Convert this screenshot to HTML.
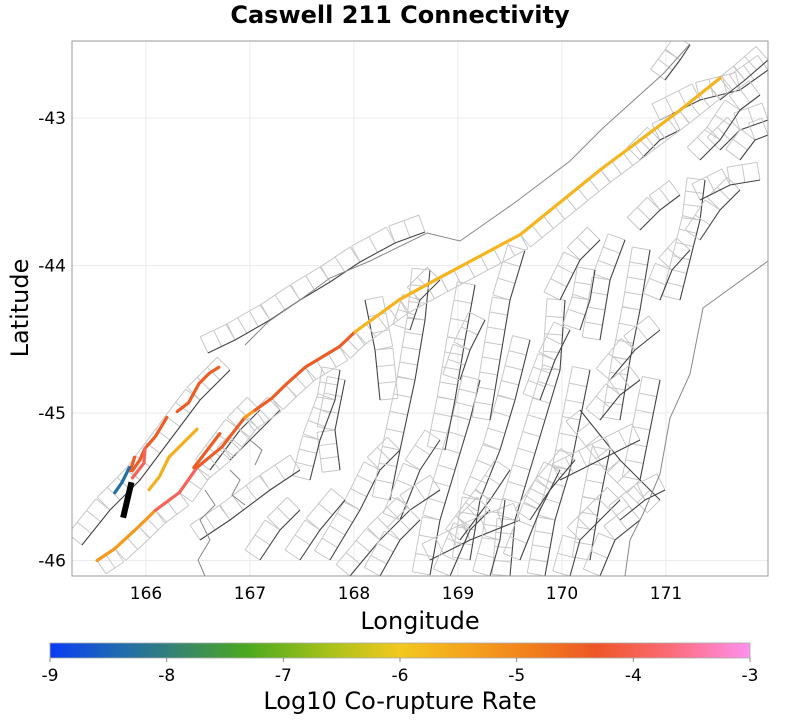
<!DOCTYPE html>
<html><head><meta charset="utf-8"><style>
body{margin:0;background:#fff;font-family:"Liberation Sans","DejaVu Sans",sans-serif}
svg text{font-family:"DejaVu Sans","Liberation Sans",sans-serif}
</style></head><body>
<svg id="chart" width="800" height="723" viewBox="0 0 800 723" xmlns="http://www.w3.org/2000/svg">
<defs>
<linearGradient id="cb" x1="0" x2="1" y1="0" y2="0">
<stop offset="0" stop-color="#0a3cf5"/><stop offset="0.1" stop-color="#1f6bb0"/><stop offset="0.2" stop-color="#3a8a60"/><stop offset="0.28" stop-color="#4aa81f"/><stop offset="0.4" stop-color="#a8c21a"/><stop offset="0.5" stop-color="#f2c81e"/><stop offset="0.6" stop-color="#f5a21e"/><stop offset="0.7" stop-color="#f07a1c"/><stop offset="0.78" stop-color="#ee5628"/><stop offset="0.88" stop-color="#fc6a72"/><stop offset="1" stop-color="#ff90ee"/>
</linearGradient>
<clipPath id="plotclip"><rect x="72" y="41" width="696" height="535"/></clipPath>
</defs>
<text x="400" y="23" text-anchor="middle" font-size="24" font-weight="bold">Caswell 211 Connectivity</text>
<rect x="72" y="41" width="696" height="535" fill="#fff"/>
<g id="grid"></g>
<g id="base" clip-path="url(#plotclip)"></g>
<g id="faults" clip-path="url(#plotclip)"></g>
<rect x="72" y="41" width="696" height="535" fill="none" stroke="#999" stroke-width="1"/>
<g id="axes"></g>
<text x="420" y="629" text-anchor="middle" font-size="24">Longitude</text>
<text transform="translate(28,308) rotate(-90)" text-anchor="middle" font-size="24">Latitude</text>
<rect x="50" y="643" width="700" height="15" fill="url(#cb)" stroke="#aaa" stroke-width="0.8"/>
<g id="cbticks"></g>
<text x="400" y="709" text-anchor="middle" font-size="24">Log10 Co-rupture Rate</text>
</svg>
<script>
const lonTicks=[166,167,168,169,170,171];
const latTicks=[-43,-44,-45,-46];
const cbTicks=[-9,-8,-7,-6,-5,-4,-3];
// colored ruptures: lon/lat traces and log10 rates
const faultRates=[-5.3,-3.9,-4.4,-5.3,-4.4,-5.7,-4.4,-4.4,-3.9,-4.4,-8.3,-5.6,-4.4];
const faultLons=[
[165.53,165.70,165.93,166.09],
[166.09,166.32,166.49],
[166.49,166.73,166.95],
[166.95,167.05],
[167.05,167.21,167.34,167.53,167.86,168.01],
[168.01,168.44,168.83,169.60,170.37,171.13,171.52],
[166.30,166.41,166.51,166.61,166.70],
[166.20,166.09,165.99,165.94,165.87],
[165.99,165.98,165.87],
[165.89,165.85],
[165.84,165.77,165.70],
[166.49,166.22,166.13,166.03],
[166.71,166.46]];
const faultLats=[
[-46.00,-45.92,-45.77,-45.66],
[-45.66,-45.54,-45.37],
[-45.37,-45.23,-45.03],
[-45.03,-44.98],
[-44.98,-44.90,-44.81,-44.69,-44.55,-44.45],
[-44.45,-44.23,-44.08,-43.79,-43.35,-42.95,-42.73],
[-44.99,-44.93,-44.80,-44.73,-44.69],
[-45.03,-45.16,-45.24,-45.32,-45.39],
[-45.24,-45.34,-45.44],
[-45.30,-45.39],
[-45.37,-45.47,-45.54],
[-45.11,-45.30,-45.43,-45.52],
[-45.14,-45.37]];
const targetLons=[165.86,165.78];
const targetLats=[-45.47,-45.71];

const NS="http://www.w3.org/2000/svg";
const xS=lon=>146+(lon-166)*104;
const yS=lat=>118+(-43-lat)*147.5;
const cS=v=>50+(v+9)/6*700;
function el(t,a,p){const e=document.createElementNS(NS,t);for(const k in a)e.setAttribute(k,a[k]);p.appendChild(e);return e;}
const stops=[[-9,[10,60,245]],[-8.4,[31,107,176]],[-7.8,[58,138,96]],[-7.3,[74,168,31]],[-6.6,[168,194,26]],[-6,[242,200,30]],[-5.4,[245,162,30]],[-4.8,[240,122,28]],[-4.3,[238,86,40]],[-3.7,[252,106,114]],[-3,[255,144,238]]];
function col(v){for(let i=0;i<stops.length-1;i++){const a=stops[i],b=stops[i+1];if(v<=b[0]){const t=(v-a[0])/(b[0]-a[0]);const c=a[1].map((x,j)=>Math.round(x+(b[1][j]-x)*t));return `rgb(${c})`;}}return 'rgb(255,144,238)';}

const grid=document.getElementById('grid'),axes=document.getElementById('axes');
lonTicks.forEach(v=>{
 const l=el('line',{x1:xS(v),x2:xS(v),y1:41,y2:576,stroke:'#ebebeb','stroke-width':1},grid);
 
 
 const t=el('text',{x:xS(v),y:599,'text-anchor':'middle','font-size':17},axes);t.textContent=v;
 
 
});
latTicks.forEach(v=>{
 const l=el('line',{x1:72,x2:768,y1:yS(v),y2:yS(v),stroke:'#ebebeb','stroke-width':1},grid);
 
 
 const t=el('text',{x:66,y:yS(v)+6,'text-anchor':'end','font-size':17},axes);t.textContent=v;
 
 
});
const cbt=document.getElementById('cbticks');
cbTicks.forEach(v=>{
 el('line',{x1:cS(v),x2:cS(v),y1:658,y2:662,stroke:'#888'},cbt);
 const t=el('text',{x:cS(v),y:681,'text-anchor':'middle','font-size':17},cbt);t.textContent=v;
 
 
});

// basemap decoration (pixel geometry of background fault network)
const base=document.getElementById('base');
const bg=[
[[430,575],[440,520],[455,470],[470,420],[480,380]],
[[470,560],[480,500],[500,450],[515,400],[530,340]],
[[510,576],[515,520],[530,470],[545,420],[560,370],[565,300]],
[[545,576],[555,520],[570,470],[580,420],[590,370]],
[[590,560],[600,500],[610,450]],
[[330,560],[360,510],[380,470],[400,450]],
[[390,500],[400,450],[415,380],[425,320],[430,270]],
[[445,450],[455,400],[465,340],[475,285]],
[[490,420],[500,360],[510,300],[525,250]],
[[560,300],[580,260],[600,240]],
[[600,340],[610,280],[625,240]],
[[620,420],[630,360],[640,310],[650,250]],
[[640,480],[650,430],[660,380]],
[[660,500],[620,460],[580,410]],
[[400,520],[420,470],[440,440]],
[[365,300],[375,350],[380,400]],
[[340,470],[335,430],[345,380]],
[[310,480],[320,440],[335,400],[340,370]],
[[560,480],[600,460],[640,440]],
[[680,300],[690,260],[700,220],[705,180]],
[[720,150],[740,130],[768,120]],
[[700,240],[720,210],[740,190]],
[[660,120],[700,100],[740,90],[768,70]],
[[665,80],[680,60],[690,45]],
[[740,160],[755,140],[768,135]],
[[430,560],[470,540],[520,520]],
[[200,540],[230,520],[270,490],[300,470]],
[[82,545],[110,510],[140,480],[170,440],[200,400],[230,370]],
[[208,353],[235,340],[270,320],[300,300],[330,282],[360,262],[395,243],[425,232]],
[[210,470],[240,430],[260,410]],
[[230,460],[260,430],[280,410]],
[[520,560],[540,510],[560,470]],
[[460,540],[490,500],[510,470]],
[[610,380],[635,350],[660,330]],
[[700,160],[720,140],[740,110],[760,95]],
[[350,576],[380,540],[410,510],[440,490]],
[[380,576],[400,540],[420,520]],
[[450,576],[470,530],[490,510]],
[[570,576],[580,540],[600,520],[620,500]],
[[600,576],[615,540],[640,520]],
[[490,576],[500,540],[505,500]],
[[530,520],[550,490],[575,460]],
[[620,520],[645,500],[665,490]],
[[540,400],[555,360],[570,330]],
[[580,330],[590,300],[595,270]],
[[660,300],[672,270],[690,250]],
[[640,230],[660,210],[680,195]],
[[700,200],[730,185],[760,180]],
[[720,100],[745,80],[768,60]],
[[410,330],[420,300],[440,280]],
[[460,380],[470,350],[485,320]],
[[300,560],[320,530],[345,500]],
[[260,560],[280,530],[300,510]],
[[600,420],[620,395],[640,380]],
[[640,160],[660,140],[680,130]]];
bg.forEach(p=>{
 const d='M'+p.map(q=>q.join(',')).join('L');
 let lad='';
 for(let i=0;i<p.length-1;i++){
  const [x1,y1]=p[i],[x2,y2]=p[i+1];const L=Math.hypot(x2-x1,y2-y1);const n=Math.max(1,Math.round(L/16));
  const nx=(y2-y1)/L*18,ny=-(x2-x1)/L*18;
  for(let k=0;k<=n;k++){const x=x1+(x2-x1)*k/n,y=y1+(y2-y1)*k/n;lad+=`M${x},${y}l${nx},${ny}`;}
  lad+=`M${x1+nx},${y1+ny}L${x2+nx},${y2+ny}`;
 }
 el('path',{d:lad,fill:'none',stroke:'#c8c8c8','stroke-width':1},base);
 const f=el('path',{d:d,fill:'none',stroke:'#444','stroke-width':1.1},base);
 
 
});
const coast=[
'M690,44L663,74L603,128L570,161L513,204L460,241L427,233L370,261L330,278L300,300L268,322L245,345',
'M768,261L703,308L690,374L670,418L660,474L643,514L630,540L625,576',
'M205,490L215,505L200,520L210,540L198,560L205,576M230,470L240,480L232,495L245,505M250,440L262,450L255,465'];
coast.forEach(d=>{const c=el('path',{d:d,fill:'none',stroke:'#888','stroke-width':1},base);
 
 });
// alpine ladder (south-east side)
(function(){let lad='';const xs=faultLons.slice(0,6).flat(),ys=faultLats.slice(0,6).flat();
 for(let i=0;i<xs.length-1;i++){const x1=xS(xs[i]),y1=yS(ys[i]),x2=xS(xs[i+1]),y2=yS(ys[i+1]);const L=Math.hypot(x2-x1,y2-y1);if(L<1)continue;const n=Math.max(1,Math.round(L/14));
  const nx=-(y2-y1)/L*16,ny=(x2-x1)/L*16;
  for(let k=0;k<=n;k++){const x=x1+(x2-x1)*k/n,y=y1+(y2-y1)*k/n;lad+=`M${x},${y}l${nx},${ny}`;}
  lad+=`M${x1+nx},${y1+ny}L${x2+nx},${y2+ny}`;}
 el('path',{d:lad,fill:'none',stroke:'#c8c8c8','stroke-width':1},base);})();

const fg=document.getElementById('faults');
faultLons.forEach((lons,i)=>{
 const d='M'+lons.map((lo,j)=>xS(lo)+','+yS(faultLats[i][j])).join('L');
 const p=el('path',{d:d,fill:'none',stroke:col(faultRates[i]),'stroke-width':3.2,'stroke-linecap':'round','stroke-linejoin':'round'},fg);
 
 
});
const tp=el('path',{d:'M'+targetLons.map((lo,j)=>xS(lo)+','+yS(targetLats[j])).join('L'),fill:'none',stroke:'#000','stroke-width':6},fg);


</script>
</body></html>
